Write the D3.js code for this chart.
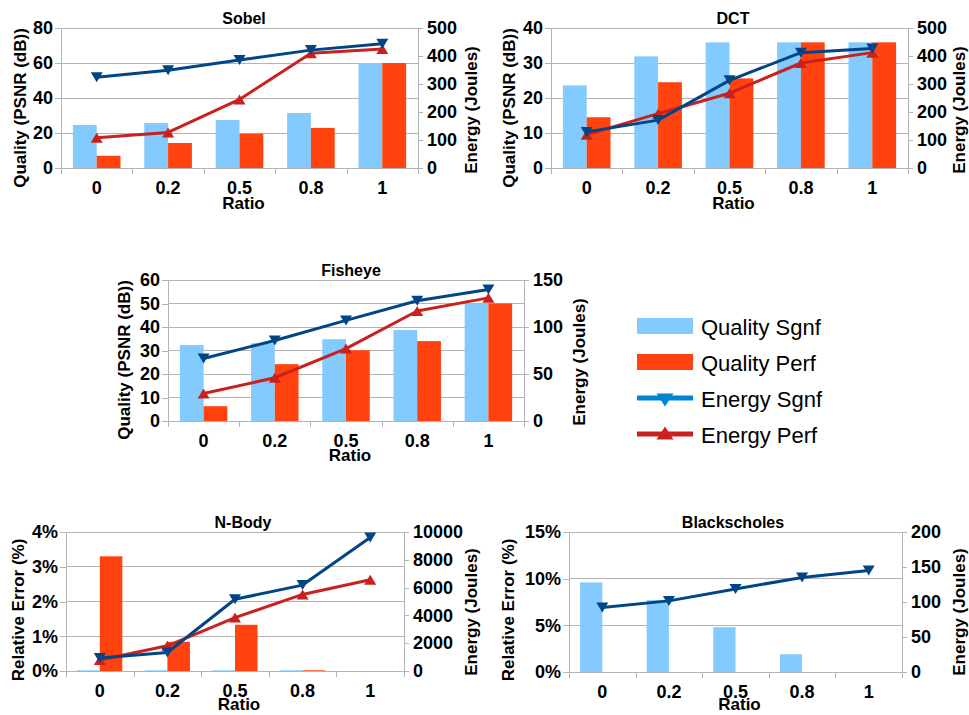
<!DOCTYPE html>
<html>
<head>
<meta charset="utf-8">
<script src="https://cdn.jsdelivr.net/npm/d3@7"></script>
<style>
  html, body { margin: 0; padding: 0; background: #fff; }
  svg { display: block; }
  text { font-family: "Liberation Sans", Arial, sans-serif; fill: #000; }
</style>
</head>
<body>
<svg id="chart" width="969" height="715"></svg>
<script>
// ---- data -------------------------------------------------------------
const ratios = ["0", "0.2", "0.5", "0.8", "1"];
const seriesNames = ["Quality Sgnf", "Quality Perf", "Energy Sgnf", "Energy Perf"];

const sobelQualitySgnf = [24.6, 25.7, 27.4, 31.4, 60];
const sobelQualityPerf = [7, 14.3, 19.6, 22.9, 60];
const sobelEnergySgnf = [324, 349, 386, 421, 444];
const sobelEnergyPerf = [108, 127, 245, 410, 425];
const sobelQualityTicks = [0, 20, 40, 60, 80];
const sobelEnergyTicks = [0, 100, 200, 300, 400, 500];

const dctQualitySgnf = [23.6, 31.9, 35.9, 35.9, 35.9];
const dctQualityPerf = [14.5, 24.5, 25.6, 35.9, 35.9];
const dctEnergySgnf = [129, 171, 313, 412, 427];
const dctEnergyPerf = [119, 194, 267, 375, 412];
const dctQualityTicks = [0, 10, 20, 30, 40];
const dctEnergyTicks = [0, 100, 200, 300, 400, 500];

const fisheyeQualitySgnf = [32.3, 33.1, 34.8, 38.7, 50];
const fisheyeQualityPerf = [6.3, 24.2, 30.1, 34, 50];
const fisheyeEnergySgnf = [66.5, 85.7, 107, 128, 140];
const fisheyeEnergyPerf = [29.2, 46, 77, 117, 131];
const fisheyeQualityTicks = [0, 10, 20, 30, 40, 50, 60];
const fisheyeEnergyTicks = [0, 50, 100, 150];

// relative error in percent
const nbodyErrorSgnf = [0.02, 0.02, 0.02, 0.02, 0];
const nbodyErrorPerf = [3.3, 0.84, 1.33, 0.02, 0];
const nbodyEnergySgnf = [930, 1330, 5160, 6180, 9600];
const nbodyEnergyPerf = [790, 1810, 3840, 5510, 6560];
const nbodyErrorTicks = [0, 1, 2, 3, 4];
const nbodyEnergyTicks = [0, 2000, 4000, 6000, 8000, 10000];

const blackscholesErrorSgnf = [9.6, 7.7, 4.8, 1.9, 0];
const blackscholesErrorPerf = [0, 0, 0, 0, 0];
const blackscholesEnergySgnf = [92, 101.6, 118.7, 135, 145];
const blackscholesEnergyPerf = null;
const blackscholesErrorTicks = [0, 5, 10, 15];
const blackscholesEnergyTicks = [0, 50, 100, 150, 200];

// ---- style ------------------------------------------------------------
const C = {
  barSgnf: "#83caff",
  barPerf: "#ff420e",
  lineSgnf: "#004586",
  linePerf: "#c9211e",
  legendSgnf: "#0084d1",
  grid: "#b3b3b3"
};

const pct = d => d + "%";
const num = d => String(d);

// ---- panels -----------------------------------------------------------
const panels = [
  { title: "Sobel", qs: sobelQualitySgnf, qp: sobelQualityPerf, es: sobelEnergySgnf, ep: sobelEnergyPerf,
    qTicks: sobelQualityTicks, eTicks: sobelEnergyTicks, qFmt: num, yLabel: "Quality (PSNR (dB))",
    x0: 61, x1: 418, y0: 28, y1: 168, titleX: 244, leftX: 26, rightX: 477, labelY: 108, ratioDy: 41 },
  { title: "DCT", qs: dctQualitySgnf, qp: dctQualityPerf, es: dctEnergySgnf, ep: dctEnergyPerf,
    qTicks: dctQualityTicks, eTicks: dctEnergyTicks, qFmt: num, yLabel: "Quality (PSNR (dB))",
    x0: 551, x1: 908, y0: 28, y1: 168, titleX: 733, leftX: 515, rightX: 965, labelY: 108, ratioDy: 41 },
  { title: "Fisheye", qs: fisheyeQualitySgnf, qp: fisheyeQualityPerf, es: fisheyeEnergySgnf, ep: fisheyeEnergyPerf,
    qTicks: fisheyeQualityTicks, eTicks: fisheyeEnergyTicks, qFmt: num, yLabel: "Quality (PSNR (dB))",
    x0: 168, x1: 524, y0: 280, y1: 421, titleX: 351, leftX: 130, rightX: 585, labelY: 360, ratioDy: 40 },
  { title: "N-Body", qs: nbodyErrorSgnf, qp: nbodyErrorPerf, es: nbodyEnergySgnf, ep: nbodyEnergyPerf,
    qTicks: nbodyErrorTicks, eTicks: nbodyEnergyTicks, qFmt: pct, yLabel: "Relative Error (%)",
    x0: 66, x1: 404, y0: 532, y1: 671, titleX: 243, leftX: 24, rightX: 477, labelY: 610, ratioDy: 39 },
  { title: "Blackscholes", qs: blackscholesErrorSgnf, qp: blackscholesErrorPerf, es: blackscholesEnergySgnf, ep: blackscholesEnergyPerf,
    qTicks: blackscholesErrorTicks, eTicks: blackscholesEnergyTicks, qFmt: pct, yLabel: "Relative Error (%)",
    x0: 569, x1: 902, y0: 532, y1: 672, titleX: 733, leftX: 514, rightX: 965, labelY: 610, ratioDy: 38 }
];

const svg = d3.select("#chart");

// triangle markers centred on the data point
function triangle(w, h, down) {
  const p = d3.path();
  if (down) { p.moveTo(-w / 2, -h / 2); p.lineTo(w / 2, -h / 2); p.lineTo(0, h / 2); }
  else { p.moveTo(-w / 2, h / 2); p.lineTo(w / 2, h / 2); p.lineTo(0, -h / 2); }
  p.closePath();
  return p.toString();
}

function drawPanel(p) {
  const g = svg.append("g").attr("class", "panel");
  const x = d3.scaleBand().domain(ratios).range([p.x0, p.x1]);
  const xEdge = d3.scaleLinear().domain([0, ratios.length]).range([p.x0, p.x1]);
  const yq = d3.scaleLinear().domain([0, d3.max(p.qTicks)]).range([p.y1, p.y0]);
  const ye = d3.scaleLinear().domain([0, d3.max(p.eTicks)]).range([p.y1, p.y0]);
  const bw = x.bandwidth() / 3;
  const mid = r => x(r) + x.bandwidth() / 2;

  // horizontal gridlines from the left axis
  g.append("g").selectAll("line").data(p.qTicks).join("line")
    .attr("x1", p.x0).attr("x2", p.x1)
    .attr("y1", d => yq(d)).attr("y2", d => yq(d))
    .attr("stroke", C.grid).attr("stroke-width", 1).attr("shape-rendering", "crispEdges");

  // bars
  const barData = ratios.map((r, i) => ({ r, s: p.qs[i], f: p.qp[i] }));
  g.append("g").selectAll("rect").data(barData.filter(d => d.s > 0)).join("rect")
    .attr("x", d => mid(d.r) - bw).attr("width", bw)
    .attr("y", d => yq(d.s)).attr("height", d => yq(0) - yq(d.s))
    .attr("fill", C.barSgnf);
  g.append("g").selectAll("rect").data(barData.filter(d => d.f > 0)).join("rect")
    .attr("x", d => mid(d.r)).attr("width", bw)
    .attr("y", d => yq(d.f)).attr("height", d => yq(0) - yq(d.f))
    .attr("fill", C.barPerf);

  // axes
  const styleAxis = sel => {
    sel.selectAll(".domain").attr("stroke", C.grid).attr("stroke-width", 1);
    sel.selectAll(".tick line").attr("stroke", C.grid).attr("stroke-width", 1);
    sel.selectAll("text").attr("font-size", 18).attr("font-weight", "bold")
      .attr("font-family", "'Liberation Sans', Arial, sans-serif").attr("fill", "#000");
    sel.attr("shape-rendering", "crispEdges");
  };
  g.append("g").attr("transform", `translate(${p.x0},0)`)
    .call(d3.axisLeft(yq).tickValues(p.qTicks).tickFormat(p.qFmt).tickSize(6).tickSizeOuter(0).tickPadding(2))
    .call(styleAxis);
  g.append("g").attr("transform", `translate(${p.x1},0)`)
    .call(d3.axisRight(ye).tickValues(p.eTicks).tickFormat(num).tickSize(5).tickSizeOuter(0).tickPadding(4))
    .call(styleAxis);
  g.append("g").attr("transform", `translate(0,${p.y1})`)
    .call(d3.axisBottom(xEdge).tickValues(d3.range(0, ratios.length + 1)).tickFormat("").tickSize(6).tickSizeOuter(0))
    .call(styleAxis);
  g.append("g").attr("transform", `translate(0,${p.y1})`)
    .call(d3.axisBottom(x).tickSize(0).tickPadding(13))
    .call(styleAxis)
    .call(s => s.select(".domain").remove());

  // energy lines
  const line = d3.line().x(d => mid(d.r)).y(d => ye(d.v));
  const series = [
    { vals: p.es, color: C.lineSgnf, down: true },
    { vals: p.ep, color: C.linePerf, down: false }
  ].filter(s => s.vals);
  series.slice().reverse().forEach(s => {
    const pts = ratios.map((r, i) => ({ r, v: s.vals[i] }));
    g.append("path").datum(pts).attr("d", line)
      .attr("fill", "none").attr("stroke", s.color).attr("stroke-width", 3).attr("stroke-linejoin", "round");
    g.append("g").selectAll("path").data(pts).join("path")
      .attr("transform", d => `translate(${mid(d.r)},${ye(d.v)})`)
      .attr("d", triangle(12, 10, s.down)).attr("fill", s.color);
  });

  // titles
  g.append("text").attr("x", p.titleX).attr("y", p.y0 - 4)
    .attr("text-anchor", "middle").attr("font-size", 16).attr("font-weight", "bold").text(p.title);
  g.append("text").attr("x", (p.x0 + p.x1) / 2 + 4).attr("y", p.y1 + p.ratioDy)
    .attr("text-anchor", "middle").attr("font-size", 17).attr("font-weight", "bold").text("Ratio");
  g.append("text").attr("transform", `translate(${p.leftX},${p.labelY}) rotate(-90)`)
    .attr("text-anchor", "middle").attr("font-size", 17).attr("font-weight", "bold").text(p.yLabel);
  g.append("text").attr("transform", `translate(${p.rightX},${p.labelY + 2}) rotate(-90)`)
    .attr("text-anchor", "middle").attr("font-size", 17).attr("font-weight", "bold").text("Energy (Joules)");
}

panels.forEach(drawPanel);

// ---- legend -----------------------------------------------------------
const legend = svg.append("g").attr("transform", "translate(637,326)");
const legendRow = d3.scaleLinear().domain([0, 3]).range([0, 108]);
const legendItems = [
  { name: seriesNames[0], kind: "bar", color: C.barSgnf },
  { name: seriesNames[1], kind: "bar", color: C.barPerf },
  { name: seriesNames[2], kind: "line", color: C.legendSgnf, down: true },
  { name: seriesNames[3], kind: "line", color: C.linePerf, down: false }
];
legendItems.forEach((it, i) => {
  const row = legend.append("g").attr("transform", `translate(0,${legendRow(i)})`);
  if (it.kind === "bar") {
    row.append("rect").attr("x", 0).attr("y", -8).attr("width", 56).attr("height", 16).attr("fill", it.color);
  } else {
    row.append("line").attr("x1", 0).attr("x2", 56).attr("y1", 0).attr("y2", 0)
      .attr("stroke", it.color).attr("stroke-width", 5);
    row.append("path").attr("transform", `translate(28,${it.down ? 2 : -1})`)
      .attr("d", triangle(17, 13, it.down)).attr("fill", it.color);
  }
  row.append("text").attr("x", 64).attr("y", 9).attr("font-size", 22).text(it.name);
});
</script>
</body>
</html>
